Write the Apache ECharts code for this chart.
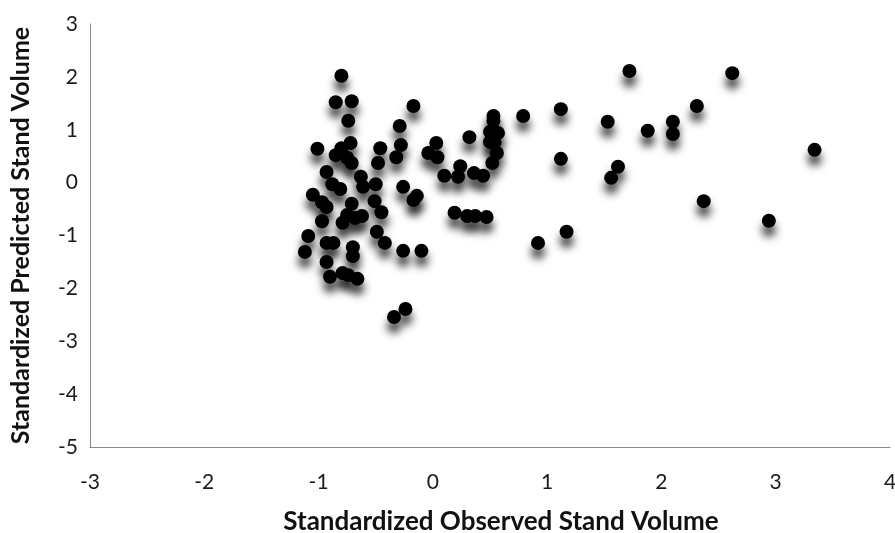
<!DOCTYPE html>
<html>
<head>
<meta charset="utf-8">
<script src="https://cdn.jsdelivr.net/npm/echarts@6/dist/echarts.min.js"></script>
<style>html,body{margin:0;padding:0;background:#fff}#c{width:895px;height:533px}</style>
</head>
<body>
<div id="c"></div>
<script>
var xTitle = 'Standardized Observed Stand Volume';
var yTitle = 'Standardized Predicted Stand Volume';
var xTicks = [-3, -2, -1, 0, 1, 2, 3, 4];
var yTicks = [-5, -4, -3, -2, -1, 0, 1, 2, 3];
var observed = [
 -0.80,-0.85,-0.71,-0.17,-0.74,-0.29,0.32,-1.01,-0.72,-0.80,
 -0.85,-0.75,-0.71,-0.46,-0.48,-0.28,-0.32,0.03,-0.04,0.04,
 0.24,0.10,0.22,0.36,0.44,-0.93,-0.88,-0.81,-0.63,-0.61,
 -0.50,-0.26,-1.05,-0.97,-0.93,-0.71,-0.51,-0.17,-0.14,-0.45,
 -0.97,-0.79,-0.75,-0.68,-0.62,0.19,0.30,0.37,0.47,-1.09,
 -0.49,-0.42,-0.93,-0.87,-0.70,-1.12,-0.26,-0.10,-0.93,-0.70,
 -0.90,-0.79,-0.74,-0.66,-0.24,-0.34,0.53,0.53,0.79,1.12,
 0.50,0.57,0.50,0.54,0.56,0.52,1.12,1.17,0.92,1.72,
 2.62,2.31,1.53,2.10,1.88,2.10,3.34,1.62,1.56,2.37,2.94
];
var predicted = [
 2.02,1.52,1.54,1.45,1.17,1.07,0.86,0.64,0.75,0.65,
 0.52,0.47,0.37,0.65,0.37,0.71,0.48,0.75,0.56,0.48,
 0.31,0.13,0.11,0.18,0.13,0.20,-0.03,-0.12,0.11,-0.08,
 -0.03,-0.08,-0.23,-0.37,-0.46,-0.40,-0.35,-0.33,-0.25,-0.56,
 -0.73,-0.76,-0.61,-0.67,-0.63,-0.57,-0.63,-0.63,-0.65,-1.01,
 -0.93,-1.14,-1.14,-1.14,-1.22,-1.31,-1.29,-1.29,-1.50,-1.39,
 -1.78,-1.71,-1.75,-1.82,-2.39,-2.54,1.26,1.17,1.26,1.39,
 0.96,0.94,0.77,0.77,0.56,0.37,0.45,-0.93,-1.14,2.11,
 2.07,1.45,1.15,1.15,0.98,0.92,0.62,0.30,0.09,-0.35,-0.72
];
var pts = observed.map(function (x, i) { return [x, predicted[i]]; });
var font = 'Lato, "Open Sans", sans-serif';
var chart = echarts.init(document.getElementById('c'), null, {renderer: 'canvas'});
chart.setOption({
  animation: false,
  backgroundColor: '#ffffff',
  grid: {left: 90, right: 5, top: 24, bottom: 86, containLabel: false, outerBoundsMode: 'none'},
  xAxis: {
    type: 'value', min: xTicks[0], max: xTicks[xTicks.length - 1], interval: 1,
    name: xTitle, nameLocation: 'middle', nameGap: 62,
    nameTextStyle: {fontFamily: font, fontWeight: 'bold', fontSize: 26, color: '#111', padding: [0, 0, 0, 22]},
    axisLine: {show: true, onZero: false, lineStyle: {color: '#868686', width: 1}},
    axisTick: {show: false},
    splitLine: {show: false},
    axisLabel: {margin: 25, fontFamily: font, fontSize: 21, color: '#1a1a1a'}
  },
  yAxis: {
    type: 'value', min: yTicks[0], max: yTicks[yTicks.length - 1], interval: 1,
    name: yTitle, nameLocation: 'middle', nameGap: 57, nameRotate: 90,
    nameTextStyle: {fontFamily: font, fontWeight: 'bold', fontSize: 25, color: '#111'},
    axisLine: {show: true, onZero: false, lineStyle: {color: '#868686', width: 1}},
    axisTick: {show: false},
    splitLine: {show: false},
    axisLabel: {margin: 12, fontFamily: font, fontSize: 21, color: '#1a1a1a'}
  },
  series: [{
    type: 'scatter',
    data: pts,
    symbol: 'circle',
    symbolSize: 14,
    itemStyle: {
      color: '#000000',
      opacity: 1,
      shadowColor: 'rgba(0,0,0,0.75)',
      shadowBlur: 8,
      shadowOffsetX: 0,
      shadowOffsetY: 9
    }
  }]
});
</script>
</body>
</html>
